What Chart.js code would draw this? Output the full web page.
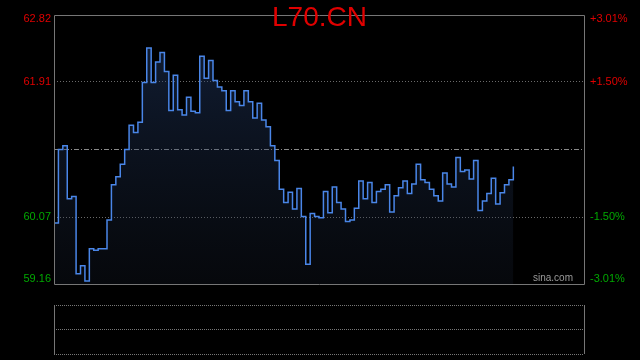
<!DOCTYPE html>
<html>
<head>
<meta charset="utf-8">
<script src="https://cdn.jsdelivr.net/npm/chart.js@4.4.1/dist/chart.umd.min.js"></script>
<style>
    body { margin: 0; background: #000; }
    #wrap { position: relative; width: 640px; height: 360px; background: #000; overflow: hidden; }
    #wrap canvas { position: absolute; left: 0; top: 0; }
    #title {
        position: absolute; left: 0; top: 3px; width: 639px;
        text-align: center; font: 28px "Liberation Sans", Arial, sans-serif;
        line-height: 28px; color: #e00000;
    }
    #brand {
        position: absolute; right: 67px; top: 272px;
        font: 10px "Liberation Sans", Arial, sans-serif; line-height: 12px; color: #9a9a9a;
    }
</style>
</head>
<body>
<div id="wrap">
    <canvas id="priceChart" width="640" height="360"></canvas>
    <canvas id="volumeChart" width="640" height="360"></canvas>
    <div id="title">L70.CN</div>
    <div id="brand">sina.com</div>
</div>
<script>
// Intraday prices (one step per slot, session not finished yet)
const prices = [
    59.99, 60.99, 61.04, 60.32, 60.35, 59.30, 59.41, 59.20, 59.64, 59.62,
    59.64, 59.64, 60.03, 60.51, 60.62, 60.79, 60.99, 61.32, 61.22, 61.36,
    61.90, 62.37, 61.90, 62.18, 62.31, 62.05, 61.52, 62.00, 61.53, 61.46,
    61.70, 61.51, 61.49, 62.26, 61.96, 62.20, 61.93, 61.84, 61.79, 61.52,
    61.79, 61.64, 61.59, 61.79, 61.64, 61.42, 61.62, 61.39, 61.30, 61.04,
    60.84, 60.45, 60.27, 60.41, 60.18, 60.46, 60.08, 59.43, 60.12, 60.08,
    60.06, 60.42, 60.13, 60.48, 60.27, 60.18, 60.01, 60.03, 60.19, 60.56,
    60.32, 60.54, 60.27, 60.42, 60.45, 60.51, 60.14, 60.36, 60.47, 60.56,
    60.39, 60.52, 60.79, 60.58, 60.54, 60.45, 60.36, 60.29, 60.67, 60.52,
    60.48, 60.88, 60.69, 60.71, 60.59, 60.84, 60.16, 60.29, 60.39, 60.60,
    60.25, 60.40, 60.51, 60.58, 60.76
];

// Price axis ticks (previous close in the middle)
const basePrice = 60.99;
const priceTicks = [59.16, 60.07, 60.99, 61.91, 62.82];
const priceLabels = ['59.16', '60.07', '', '61.91', '62.82'];
const pctLabels = ['-3.01%', '-1.50%', '', '+1.50%', '+3.01%'];

// Time slots for the whole session
const SLOT_COUNT = 121;
const slots = Array.from({ length: SLOT_COUNT }, (_, i) => i);

const UP_COLOR = '#e00000';
const DOWN_COLOR = '#00a800';
const FONT = '"Liberation Sans", Arial, sans-serif';

function tickColor(value) {
    return value > basePrice ? UP_COLOR : DOWN_COLOR;
}

// top / bottom labels sit a bit inside the frame
function tickLabel(text, index) {
    if (index === priceTicks.length - 1) return ['', text];
    if (index === 0) return [text, ''];
    return text;
}

function tickFont(ctx) {
    const i = ctx.index;
    if (i === priceTicks.length - 1) return { family: FONT, size: 11, lineHeight: 8 / 11 };
    if (i === 0) return { family: FONT, size: 11, lineHeight: 10 / 11 };
    return { family: FONT, size: 11 };
}

function setTicks(scale) {
    scale.ticks = priceTicks.map(v => ({ value: v }));
}

// solid frame round the plot area
const framePlugin = {
    id: 'frame',
    afterDraw(chart, args, opts) {
        const { ctx, chartArea: a } = chart;
        ctx.save();
        ctx.strokeStyle = opts.color || '#777';
        ctx.lineWidth = 1;
        ctx.beginPath();
        if (opts.sidesOnly) {
            ctx.moveTo(a.left + 0.5, a.top);
            ctx.lineTo(a.left + 0.5, a.bottom);
            ctx.moveTo(a.right + 0.5, a.top);
            ctx.lineTo(a.right + 0.5, a.bottom);
        } else {
            ctx.rect(a.left + 0.5, a.top + 0.5, a.right - a.left, a.bottom - a.top);
        }
        ctx.stroke();
        ctx.restore();
    }
};

// Price chart
function createPriceChart() {
    const ctx = document.getElementById('priceChart').getContext('2d');

    new Chart(ctx, {
        type: 'line',
        data: {
            labels: slots,
            datasets: [{
                data: prices,
                stepped: true,
                borderColor: '#4a86e8',
                borderWidth: 1.5,
                pointRadius: 0,
                fill: 'start',
                backgroundColor: function(context) {
                    const { ctx: c, chartArea } = context.chart;
                    if (!chartArea) return 'rgba(20,35,60,0.5)';
                    const g = c.createLinearGradient(0, chartArea.top, 0, chartArea.bottom);
                    g.addColorStop(0, 'rgba(40,70,125,0.45)');
                    g.addColorStop(1, 'rgba(30,40,60,0.2)');
                    return g;
                }
            }]
        },
        options: {
            responsive: false,
            animation: false,
            layout: { padding: { left: 0, right: 0, top: 15, bottom: 76 } },
            plugins: {
                legend: { display: false },
                tooltip: { enabled: false },
                frame: { color: '#767676' }
            },
            scales: {
                x: {
                    type: 'category',
                    display: false,
                    offset: false
                },
                y: {
                    position: 'left',
                    min: 59.16,
                    max: 62.82,
                    z: 1,
                    afterBuildTicks: setTicks,
                    afterFit: s => { s.width = 54; },
                    border: { display: false, dash: [1, 2] },
                    grid: {
                        drawTicks: false,
                        lineWidth: 1,
                        color: c => (c.index === 1 || c.index === 3) ? '#6a6a6a' : 'rgba(0,0,0,0)'
                    },
                    ticks: {
                        padding: 3,
                        font: tickFont,
                        color: c => tickColor(c.tick.value),
                        callback: (v, i) => tickLabel(priceLabels[i], i)
                    }
                },
                y2: {
                    position: 'right',
                    min: 59.16,
                    max: 62.82,
                    z: 1,
                    afterBuildTicks: setTicks,
                    afterFit: s => { s.width = 56; },
                    border: { display: false, dash: [5, 2, 1, 2] },
                    grid: {
                        drawTicks: false,
                        lineWidth: 1,
                        color: c => c.index === 2 ? '#8a8a8a' : 'rgba(0,0,0,0)'
                    },
                    ticks: {
                        padding: 6,
                        font: tickFont,
                        color: c => tickColor(c.tick.value),
                        callback: (v, i) => tickLabel(pctLabels[i], i)
                    }
                }
            }
        },
        plugins: [framePlugin]
    });
}

// Empty volume panel below
function createVolumeChart() {
    const ctx = document.getElementById('volumeChart').getContext('2d');

    new Chart(ctx, {
        type: 'bar',
        data: { labels: slots, datasets: [] },
        options: {
            responsive: false,
            animation: false,
            layout: { padding: { left: 54, right: 56, top: 305, bottom: 6 } },
            plugins: {
                legend: { display: false },
                tooltip: { enabled: false },
                frame: { color: '#767676', sidesOnly: true }
            },
            scales: {
                x: { display: false },
                y: {
                    min: 0,
                    max: 2,
                    afterFit: s => { s.width = 0; },
                    border: { display: false, dash: [1, 1] },
                    grid: { drawTicks: false, color: '#777' },
                    ticks: { display: false, stepSize: 1 }
                }
            }
        },
        plugins: [framePlugin]
    });
}

createPriceChart();
createVolumeChart();
</script>
</body>
</html>
